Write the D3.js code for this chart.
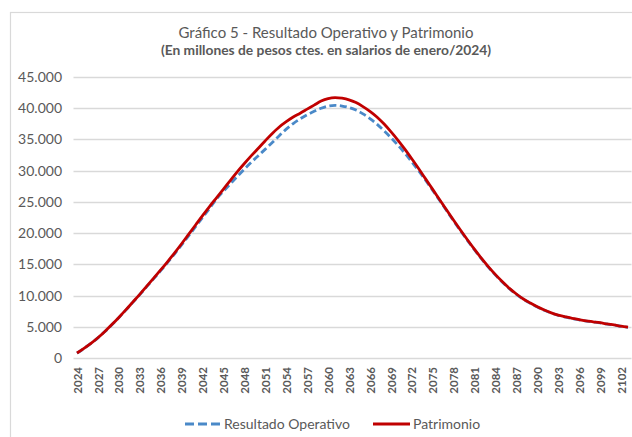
<!DOCTYPE html>
<html>
<head>
<meta charset="utf-8">
<script src="https://cdn.jsdelivr.net/npm/d3@7"></script>
<style>
  html, body { margin: 0; padding: 0; background: #fff; }
  svg { display: block; }
</style>
</head>
<body>
<svg id="chart" width="632" height="437"></svg>
<script>
// ---------- DATA ----------
const years = d3.range(2024, 2104); // 2024 .. 2103

const patrimonio = [
  800, 1550, 2350, 3250, 4250, 5350, 6500, 7700, 8950, 10200,
  11500, 12800, 14100, 15450, 16850, 18300, 19800, 21300, 22800, 24250,
  25650, 27050, 28450, 29850, 31150, 32400, 33600, 34800, 35950, 37000,
  37850, 38600, 39200, 39850, 40500, 41150, 41550, 41700, 41600, 41350,
  40900, 40250, 39500, 38600, 37500, 36250, 34900, 33450, 31900, 30300,
  28650, 27000, 25350, 23700, 22050, 20450, 18900, 17400, 15950, 14600,
  13350, 12200, 11150, 10250, 9450, 8800, 8200, 7680, 7230, 6870,
  6600, 6350, 6150, 5950, 5800, 5650, 5450, 5300, 5100, 4950
];

const resultadoOperativo = [
  780, 1530, 2330, 3230, 4230, 5320, 6470, 7660, 8900, 10140,
  11420, 12700, 13980, 15300, 16680, 18100, 19560, 21020, 22500, 23950,
  25450, 26700, 27900, 29100, 30250, 31350, 32400, 33450, 34500, 35600,
  36650, 37550, 38300, 38950, 39500, 40000, 40350, 40450, 40350, 40100,
  39700, 39100, 38350, 37450, 36400, 35300, 34100, 32800, 31400, 29950,
  28450, 26850, 25220, 23580, 21940, 20350, 18800, 17310, 15870, 14520,
  13270, 12130, 11090, 10190, 9400, 8750, 8150, 7640, 7190, 6830,
  6560, 6310, 6110, 5910, 5770, 5620, 5420, 5270, 5070, 4920
];

const yTicks = [0, 5000, 10000, 15000, 20000, 25000, 30000, 35000, 40000, 45000];
const xTickYears = years.filter(y => (y - 2024) % 3 === 0);

const seriesNames = ["Resultado Operativo", "Patrimonio"];
const titleText = "Gráfico 5 - Resultado Operativo y Patrimonio";
const subtitleText = "(En millones de pesos ctes. en salarios de enero/2024)";

// ---------- LAYOUT ----------
const svg = d3.select("#chart");
const FONT = "Lato, 'Open Sans', sans-serif";
const textColor = "#595959";
const gridColor = "#d9d9d9";
const blue = "#4A89C8";
const red = "#C00000";

// chart border
svg.append("rect")
  .attr("x", 10.5).attr("y", 12.5)
  .attr("width", 640).attr("height", 440)
  .attr("fill", "#fff").attr("stroke", "#d9d9d9").attr("stroke-width", 1.2);

const x = d3.scalePoint().domain(years).range([73.5, 631.5]).padding(0.5);
const y = d3.scaleLinear().domain([0, 45000]).range([358, 77]);

// gridlines
svg.append("g")
  .selectAll("line")
  .data(yTicks)
  .join("line")
  .attr("x1", 73.5).attr("x2", 631.5)
  .attr("y1", d => Math.round(y(d)) + 0.5)
  .attr("y2", d => Math.round(y(d)) + 0.5)
  .attr("stroke", gridColor)
  .attr("stroke-width", 1.3);

// Y axis labels
const fmt = d => d === 0 ? "0" : d3.format(",")(d).replace(/,/g, ".");
const yAxis = d3.axisLeft(y).tickValues(yTicks).tickFormat(fmt).tickSize(0).tickPadding(0);
const gy = svg.append("g").attr("transform", "translate(62,0)").call(yAxis);
gy.select(".domain").remove();
gy.selectAll("text")
  .attr("fill", textColor)
  .style("font-family", FONT)
  .style("font-size", "14px");

// X axis labels (rotated)
const xAxis = d3.axisBottom(x).tickValues(xTickYears).tickSize(0).tickPadding(0);
const gx = svg.append("g").attr("transform", "translate(0,358)").call(xAxis);
gx.select(".domain").remove();
gx.selectAll("text")
  .attr("fill", textColor)
  .attr("transform", "rotate(-90)")
  .attr("text-anchor", "end")
  .attr("x", -9)
  .attr("y", 0)
  .attr("dy", "0.36em")
  .style("font-family", FONT)
  .style("font-size", "11.5px")
  .style("font-weight", "bold");

// lines
const line = d3.line()
  .x((d, i) => x(years[i]))
  .y(d => y(d))
  .curve(d3.curveMonotoneX);

svg.append("path")
  .datum(resultadoOperativo)
  .attr("d", line)
  .attr("fill", "none")
  .attr("stroke", blue)
  .attr("stroke-width", 2.8)
  .attr("stroke-dasharray", "7,3.5");

svg.append("path")
  .datum(patrimonio)
  .attr("d", line)
  .attr("fill", "none")
  .attr("stroke", red)
  .attr("stroke-width", 2.8);

// titles
svg.append("text")
  .attr("x", 326).attr("y", 38)
  .attr("text-anchor", "middle")
  .attr("fill", textColor)
  .style("font-family", FONT)
  .style("font-size", "15px")
  .text(titleText);

svg.append("text")
  .attr("x", 326).attr("y", 55)
  .attr("text-anchor", "middle")
  .attr("fill", textColor)
  .style("font-family", FONT)
  .style("font-size", "13.8px")
  .style("font-weight", "bold")
  .text(subtitleText);

// legend
const legend = svg.append("g").attr("transform", "translate(0,424)");
legend.append("line")
  .attr("x1", 185).attr("x2", 220).attr("y1", 0).attr("y2", 0)
  .attr("stroke", blue).attr("stroke-width", 2.8).attr("stroke-dasharray", "9,4");
legend.append("text")
  .attr("x", 224).attr("y", 0).attr("dy", "0.35em")
  .attr("fill", textColor)
  .style("font-family", FONT).style("font-size", "14px")
  .text(seriesNames[0]);
legend.append("line")
  .attr("x1", 373).attr("x2", 410).attr("y1", 0).attr("y2", 0)
  .attr("stroke", red).attr("stroke-width", 2.8);
legend.append("text")
  .attr("x", 413).attr("y", 0).attr("dy", "0.35em")
  .attr("fill", textColor)
  .style("font-family", FONT).style("font-size", "14px")
  .text(seriesNames[1]);
</script>
</body>
</html>
